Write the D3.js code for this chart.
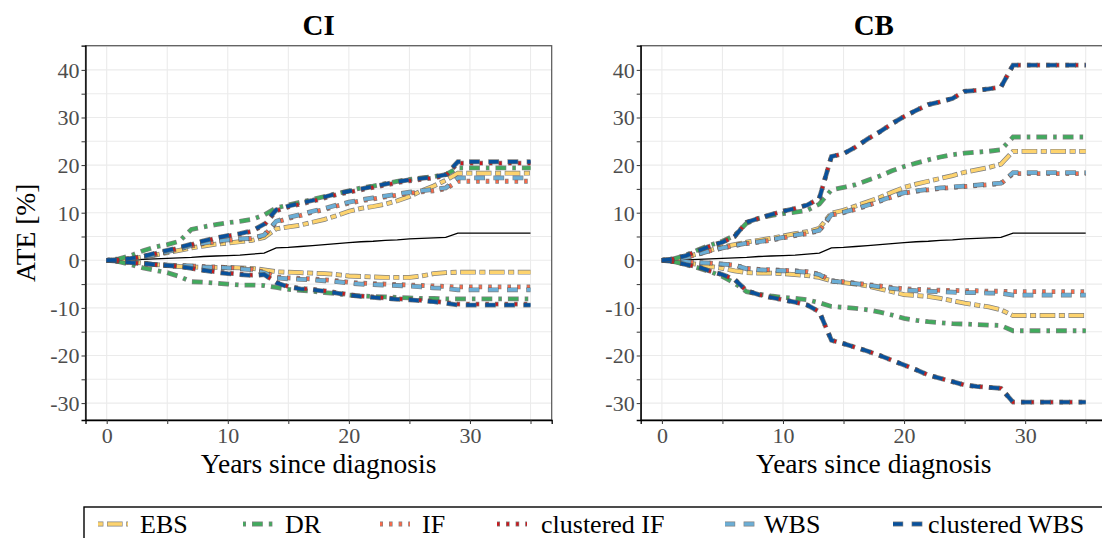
<!DOCTYPE html>
<html>
<head>
<meta charset="utf-8">
<script src="https://cdn.jsdelivr.net/npm/d3@7"></script>
<style>
    body { margin: 0; background: #fff; }
    svg { display: block; }
    svg text { font-family: "Liberation Serif", "Times New Roman", serif; }
</style>
</head>
<body>
<div id="chart"></div>
<script>

// years since diagnosis
const years = [0,1,2,3,4,5,6,7,8,9,10,11,12,13,14,15,16,17,18,19,20,21,22,23,24,25,26,27,28,29,30,31,32,33,34,35];

// point estimate (same in both panels)
const estimate = [0,0,0.1,0.2,0.3,0.4,0.5,0.6,0.8,0.9,1.0,1.1,1.3,1.5,2.6,2.7,2.9,3.1,3.3,3.5,3.7,3.9,4.0,4.2,4.3,4.5,4.6,4.7,4.8,5.7,5.7,5.7,5.7,5.7,5.7,5.7];

// ---- CI panel bounds ----
const ciEbsUp = [0,0.1,0.3,0.7,1.1,1.6,2.1,2.6,3.0,3.4,3.6,3.9,4.2,4.8,6.6,7.0,7.4,8.0,8.6,9.4,10.3,10.9,11.3,11.8,12.5,13.4,14.6,15.6,16.8,18.3,18.3,18.3,18.3,18.3,18.3,18.3];
const ciEbsLo = [0,-0.1,-0.3,-0.6,-0.9,-1.1,-1.3,-1.4,-1.5,-1.5,-1.5,-1.6,-1.7,-2.0,-2.4,-2.5,-2.6,-2.7,-2.8,-3.0,-3.3,-3.4,-3.5,-3.6,-3.6,-3.6,-3.3,-2.8,-2.6,-2.5,-2.5,-2.5,-2.5,-2.5,-2.5,-2.5];
const ciDrUp = [0,0.3,1.0,2.0,2.8,3.3,4.0,6.5,7.0,7.5,7.9,8.2,8.6,9.5,11.0,11.6,12.2,12.8,13.4,14.0,14.6,15.2,15.6,16.1,16.6,17.0,17.3,17.6,18.0,19.4,19.4,19.4,19.4,19.4,19.4,19.4];
const ciDrLo = [0,-0.3,-0.9,-1.6,-2.1,-2.6,-3.4,-4.5,-4.6,-4.8,-5.0,-5.2,-5.2,-5.3,-5.7,-6.1,-6.3,-6.5,-6.8,-7.0,-7.3,-7.5,-7.6,-7.7,-7.8,-7.9,-8.0,-8.0,-8.1,-8.1,-8.1,-8.1,-8.1,-8.1,-8.1,-8.1];
const ciIfUp = [0,0.1,0.3,0.7,1.2,1.8,2.4,3.0,3.5,3.9,4.2,4.4,4.6,5.2,8.0,8.8,9.4,10.1,10.7,11.4,12.0,12.5,12.9,13.3,13.7,14.1,14.4,14.6,15.0,16.6,16.6,16.6,16.6,16.6,16.6,16.6];
const ciIfLo = [0,-0.1,-0.4,-0.7,-0.9,-1.0,-1.1,-1.2,-1.3,-1.4,-1.5,-1.7,-1.9,-2.5,-3.5,-3.7,-3.8,-3.9,-4.1,-4.3,-4.6,-4.8,-4.9,-5.0,-5.1,-5.2,-5.3,-5.4,-5.5,-5.6,-5.6,-5.6,-5.6,-5.6,-5.6,-5.6];
const ciCifUp = [0,0.1,0.4,0.8,1.4,2.0,2.6,3.3,4.0,4.6,5.1,5.5,6.1,7.4,10.4,11.2,11.8,12.4,13.1,13.8,14.3,14.8,15.3,15.8,16.3,16.7,17.0,17.3,17.8,20.4,20.4,20.4,20.4,20.4,20.4,20.4];
const ciCifLo = [0,-0.2,-0.5,-0.7,-0.9,-1.1,-1.3,-1.7,-2.1,-2.4,-2.7,-2.9,-3.1,-3.0,-4.6,-5.5,-5.9,-6.1,-6.4,-6.8,-7.2,-7.5,-7.7,-7.9,-8.1,-8.2,-8.4,-8.6,-8.9,-9.2,-9.2,-9.2,-9.2,-9.2,-9.2,-9.2];
const ciWbsUp = [0,0.1,0.3,0.7,1.2,1.8,2.4,3.1,3.6,4.0,4.3,4.5,4.6,5.3,8.2,9.0,9.6,10.3,10.9,11.6,12.2,12.7,13.1,13.5,13.9,14.3,14.6,14.9,15.2,17.3,17.3,17.3,17.3,17.3,17.3,17.3];
const ciWbsLo = [0,-0.1,-0.4,-0.7,-0.9,-1.0,-1.1,-1.2,-1.4,-1.5,-1.6,-1.8,-2.0,-2.6,-3.7,-3.9,-4.0,-4.1,-4.3,-4.5,-4.8,-5.0,-5.1,-5.2,-5.3,-5.4,-5.6,-5.8,-5.9,-6.2,-6.2,-6.2,-6.2,-6.2,-6.2,-6.2];
const ciCwbsUp = [0,0.1,0.4,0.8,1.5,2.1,2.7,3.4,4.1,4.7,5.2,5.6,6.2,7.6,10.6,11.4,12.0,12.6,13.3,14.0,14.5,15.0,15.5,16.0,16.5,16.9,17.2,17.5,18.0,20.7,20.7,20.7,20.7,20.7,20.7,20.7];
const ciCwbsLo = [0,-0.2,-0.5,-0.7,-0.9,-1.1,-1.3,-1.7,-2.1,-2.5,-2.8,-3.0,-3.2,-3.0,-4.7,-5.6,-6.0,-6.2,-6.5,-6.9,-7.3,-7.6,-7.8,-8.0,-8.2,-8.3,-8.5,-8.7,-9.0,-9.4,-9.4,-9.4,-9.4,-9.4,-9.4,-9.4];

// ---- CB panel bounds ----
const cbEbsUp = [0,0.2,0.7,1.4,2.1,2.8,3.3,3.8,4.2,4.6,5.1,5.6,6.0,6.7,9.9,10.5,11.4,12.3,13.2,14.3,15.3,16.0,16.6,17.2,17.8,18.5,19.0,19.5,20.2,22.9,22.9,22.9,22.9,22.9,22.9,22.9];
const cbEbsLo = [0,-0.2,-0.5,-0.9,-1.3,-1.7,-2.2,-2.6,-2.7,-2.7,-2.8,-3.0,-3.2,-3.6,-4.3,-4.7,-5.0,-5.4,-6.0,-6.6,-7.2,-7.4,-7.6,-8.0,-8.5,-9.0,-9.4,-9.8,-10.4,-11.6,-11.6,-11.6,-11.6,-11.6,-11.6,-11.6];
const cbDrUp = [0,0.3,1.1,2.2,3.2,4.0,5.2,7.8,8.8,9.4,9.8,10.1,10.5,11.8,14.8,15.3,15.9,16.8,17.7,18.8,19.7,20.4,21.1,21.7,22.2,22.5,22.7,22.9,23.2,25.9,25.9,25.9,25.9,25.9,25.9,25.9];
const cbDrLo = [0,-0.3,-0.9,-1.6,-2.4,-3.4,-4.8,-6.6,-7.1,-7.5,-7.8,-8.0,-8.3,-8.9,-9.7,-9.9,-10.1,-10.4,-10.9,-11.5,-12.2,-12.6,-12.9,-13.1,-13.3,-13.4,-13.5,-13.6,-13.7,-14.8,-14.8,-14.8,-14.8,-14.8,-14.8,-14.8];
const cbIfUp = [0,0.2,0.6,1.3,2.0,2.6,3.1,3.5,3.8,4.2,4.7,5.2,5.6,6.2,9.5,10.0,10.7,11.5,12.4,13.3,14.1,14.5,14.8,15.1,15.3,15.5,15.7,15.9,16.1,18.2,18.2,18.2,18.2,18.2,18.2,18.2];
const cbIfLo = [0,-0.1,-0.3,-0.5,-0.6,-0.8,-1.0,-1.7,-1.9,-2.0,-2.1,-2.2,-2.4,-2.9,-4.3,-4.5,-4.8,-5.1,-5.4,-5.7,-6.0,-6.1,-6.2,-6.3,-6.3,-6.4,-6.4,-6.5,-6.5,-6.6,-6.6,-6.6,-6.6,-6.6,-6.6,-6.6];
const cbCifUp = [0,0.3,1.0,2.0,3.0,3.8,5.0,8.0,8.8,9.6,10.3,10.9,11.6,13.0,21.8,22.4,23.8,25.5,27.0,28.7,30.2,31.5,32.7,33.3,34.0,35.5,35.7,36.0,36.4,41.0,41.0,41.0,41.0,41.0,41.0,41.0];
const cbCifLo = [0,-0.3,-0.9,-1.4,-2.3,-3.0,-4.0,-6.4,-7.2,-7.8,-8.3,-8.8,-9.4,-10.8,-16.8,-17.5,-18.3,-19.1,-20.0,-21.0,-22.0,-23.0,-24.1,-24.8,-25.5,-26.2,-26.5,-26.7,-26.9,-29.8,-29.8,-29.8,-29.8,-29.8,-29.8,-29.8];
const cbWbsUp = [0,0.2,0.6,1.3,2.0,2.6,3.1,3.6,3.9,4.3,4.8,5.3,5.7,6.3,9.6,10.1,10.8,11.6,12.5,13.4,14.2,14.6,14.9,15.2,15.4,15.6,15.8,16.0,16.2,18.4,18.4,18.4,18.4,18.4,18.4,18.4];
const cbWbsLo = [0,-0.1,-0.3,-0.5,-0.6,-0.8,-1.0,-1.8,-2.0,-2.1,-2.2,-2.3,-2.5,-3.0,-4.4,-4.6,-4.9,-5.2,-5.6,-5.9,-6.2,-6.4,-6.5,-6.6,-6.7,-6.8,-6.8,-6.9,-6.9,-7.3,-7.3,-7.3,-7.3,-7.3,-7.3,-7.3];
const cbCwbsUp = [0,0.3,1.0,2.0,3.0,3.8,5.0,8.0,8.8,9.6,10.3,10.9,11.6,13.0,21.8,22.4,23.8,25.5,27.0,28.7,30.2,31.5,32.7,33.3,34.0,35.5,35.7,36.0,36.4,41.0,41.0,41.0,41.0,41.0,41.0,41.0];
const cbCwbsLo = [0,-0.3,-0.9,-1.4,-2.3,-3.0,-4.0,-6.4,-7.2,-7.8,-8.3,-8.8,-9.4,-10.8,-16.8,-17.5,-18.3,-19.1,-20.0,-21.0,-22.0,-23.0,-24.1,-24.8,-25.5,-26.2,-26.5,-26.7,-26.9,-29.8,-29.8,-29.8,-29.8,-29.8,-29.8,-29.8];

// methods, in legend order
const methodNames = ["EBS", "DR", "IF", "clustered IF", "WBS", "clustered WBS"];
const methodColors = ["#fdd36e", "#41ab5d", "#fb6a4a", "#cb181d", "#6baed6", "#08519c"];
// ggplot linetypes: twodash, dotdash, dotted, dotted, dashed, dashed
const methodDash = [[2,2,6,2], [1,3,4,3], [1,3], [1,3], [4,4], [4,4]];

const yTickLabels = [-30, -20, -10, 0, 10, 20, 30, 40];
const xTickLabels = [0, 10, 20, 30];

const panels = [
    {title: "CI", left: 85.5, bounds: [[ciEbsLo, ciEbsUp], [ciDrLo, ciDrUp], [ciIfLo, ciIfUp], [ciCifLo, ciCifUp], [ciWbsLo, ciWbsUp], [ciCwbsLo, ciCwbsUp]], ylab: true},
    {title: "CB", left: 640.7, bounds: [[cbEbsLo, cbEbsUp], [cbDrLo, cbDrUp], [cbIfLo, cbIfUp], [cbCifLo, cbCifUp], [cbWbsLo, cbWbsUp], [cbCwbsLo, cbCwbsUp]], ylab: false}
];

const serif = "'Liberation Serif', 'Times New Roman', serif";
const unit = 2.4;      // dash unit in px
const lineW = 3.4;     // coloured stroke width
const grow = 0.6;      // outline overhang at dash ends

function dashOf(pat) {
    return pat.map(v => v * unit).join(",");
}
function outlineDashOf(pat) {
    return pat.map((v, i) => i % 2 === 0 ? v * unit + 2 * grow : v * unit - 2 * grow).join(",");
}

const svg = d3.select("#chart").append("svg")
    .attr("width", 1102)
    .attr("height", 538);

const plotW = 466.2, plotTop = 45.7, plotBottom = 420;

panels.forEach((p, pi) => {
    let x = d3.scaleLinear().domain([-1.75, 36.75]).range([p.left, p.left + plotW]);
    let y = d3.scaleLinear().domain([-33.55, 45.08]).range([plotBottom, plotTop]);

    let g = svg.append("g").attr("class", "panel");

    // grid (major + minor every 5)
    let xGrid = [0, 5, 10, 15, 20, 25, 30, 35];
    let yGrid = [-30, -25, -20, -15, -10, -5, 0, 5, 10, 15, 20, 25, 30, 35, 40, 45];
    g.selectAll(".vg").data(xGrid).enter().append("line")
        .attr("x1", d => x(d)).attr("x2", d => x(d))
        .attr("y1", plotTop).attr("y2", plotBottom)
        .attr("stroke", "#ebebeb").attr("stroke-width", 1.1);
    g.selectAll(".hg").data(yGrid.filter(d => y(d) > plotTop)).enter().append("line")
        .attr("x1", p.left).attr("x2", p.left + plotW)
        .attr("y1", d => y(d)).attr("y2", d => y(d))
        .attr("stroke", "#ebebeb").attr("stroke-width", 1.1);

    // clip
    let clipId = "clip" + pi;
    svg.append("clipPath").attr("id", clipId).append("rect")
        .attr("x", p.left).attr("y", plotTop).attr("width", plotW).attr("height", plotBottom - plotTop);

    let lines = g.append("g").attr("clip-path", `url(#${clipId})`);
    let line = d3.line().x((d, i) => x(years[i])).y(d => y(d));

    // point estimate
    lines.append("path")
        .attr("d", line(estimate))
        .attr("fill", "none")
        .attr("stroke", "#000")
        .attr("stroke-width", 1.3);

    p.bounds.forEach((pair, m) => {
        pair.forEach(arr => {
            lines.append("path")
                .attr("d", line(arr))
                .attr("fill", "none")
                .attr("stroke", "#555")
                .attr("stroke-opacity", 0.75)
                .attr("stroke-width", lineW + 1.4)
                .attr("stroke-dasharray", outlineDashOf(methodDash[m]))
                .attr("stroke-dashoffset", grow);
            lines.append("path")
                .attr("d", line(arr))
                .attr("fill", "none")
                .attr("stroke", methodColors[m])
                .attr("stroke-width", lineW)
                .attr("stroke-dasharray", dashOf(methodDash[m]));
        });
    });

    // panel border
    g.append("rect")
        .attr("x", p.left).attr("y", plotTop)
        .attr("width", plotW).attr("height", plotBottom - plotTop)
        .attr("fill", "none").attr("stroke", "#555").attr("stroke-width", 1.2);

    // axes
    let yAxis = d3.axisLeft(y).tickValues(yGrid.filter(d => d < 45)).tickSize(4)
        .tickFormat(d => yTickLabels.includes(d) ? d : "");
    let xAxis = d3.axisBottom(x).tickValues(xGrid).tickSize(4)
        .tickFormat(d => xTickLabels.includes(d) ? d : "");

    let ya = g.append("g").attr("transform", `translate(${p.left},0)`).call(yAxis);
    let xa = g.append("g").attr("transform", `translate(0,${plotBottom})`).call(xAxis);
    [ya, xa].forEach(a => {
        a.attr("font-family", serif).attr("font-size", 22);
        a.select(".domain").attr("stroke", "#000").attr("stroke-width", 1.3);
        a.selectAll(".tick line").attr("stroke", "#333").attr("stroke-width", 1);
        a.selectAll("text").attr("fill", "#4d4d4d");
    });
    ya.selectAll("text").attr("x", -6).attr("dy", "0.34em");
    xa.selectAll("text").attr("y", 7).attr("dy", "0.71em");

    // titles
    g.append("text")
        .attr("x", p.left + plotW / 2).attr("y", 35)
        .attr("text-anchor", "middle")
        .style("font-size", "29px").style("font-weight", "bold")
        .text(p.title);
    g.append("text")
        .attr("x", x(17.5)).attr("y", 473)
        .attr("text-anchor", "middle")
        .style("font-size", "27.5px")
        .text("Years since diagnosis");
    if (p.ylab) {
        g.append("text")
            .attr("transform", `translate(35,${(plotTop + plotBottom) / 2}) rotate(-90)`)
            .attr("text-anchor", "middle")
            .style("font-size", "27.5px")
            .text("ATE [%]");
    }
});

// legend
const legendKeyX = [98, 243, 380, 497, 725, 893];
const legendTextX = [140, 285, 422, 541, 764, 928];

let legend = svg.append("g").attr("class", "legend");
legend.append("rect")
    .attr("x", 84).attr("y", 507).attr("width", 1040).attr("height", 45)
    .attr("fill", "#fff").attr("stroke", "#000").attr("stroke-width", 1.4);

methodNames.forEach((name, m) => {
    let ky = 524;
    legend.append("line")
        .attr("x1", legendKeyX[m]).attr("x2", legendKeyX[m] + 30)
        .attr("y1", ky).attr("y2", ky)
        .attr("stroke", "#555").attr("stroke-opacity", 0.75)
        .attr("stroke-width", lineW + 1.4)
        .attr("stroke-dasharray", outlineDashOf(methodDash[m]))
        .attr("stroke-dashoffset", grow);
    legend.append("line")
        .attr("x1", legendKeyX[m]).attr("x2", legendKeyX[m] + 30)
        .attr("y1", ky).attr("y2", ky)
        .attr("stroke", methodColors[m]).attr("stroke-width", lineW)
        .attr("stroke-dasharray", dashOf(methodDash[m]));
    legend.append("text")
        .attr("x", legendTextX[m]).attr("y", 533)
        .style("font-size", "26px")
        .text(name);
});

</script>
</body>
</html>
